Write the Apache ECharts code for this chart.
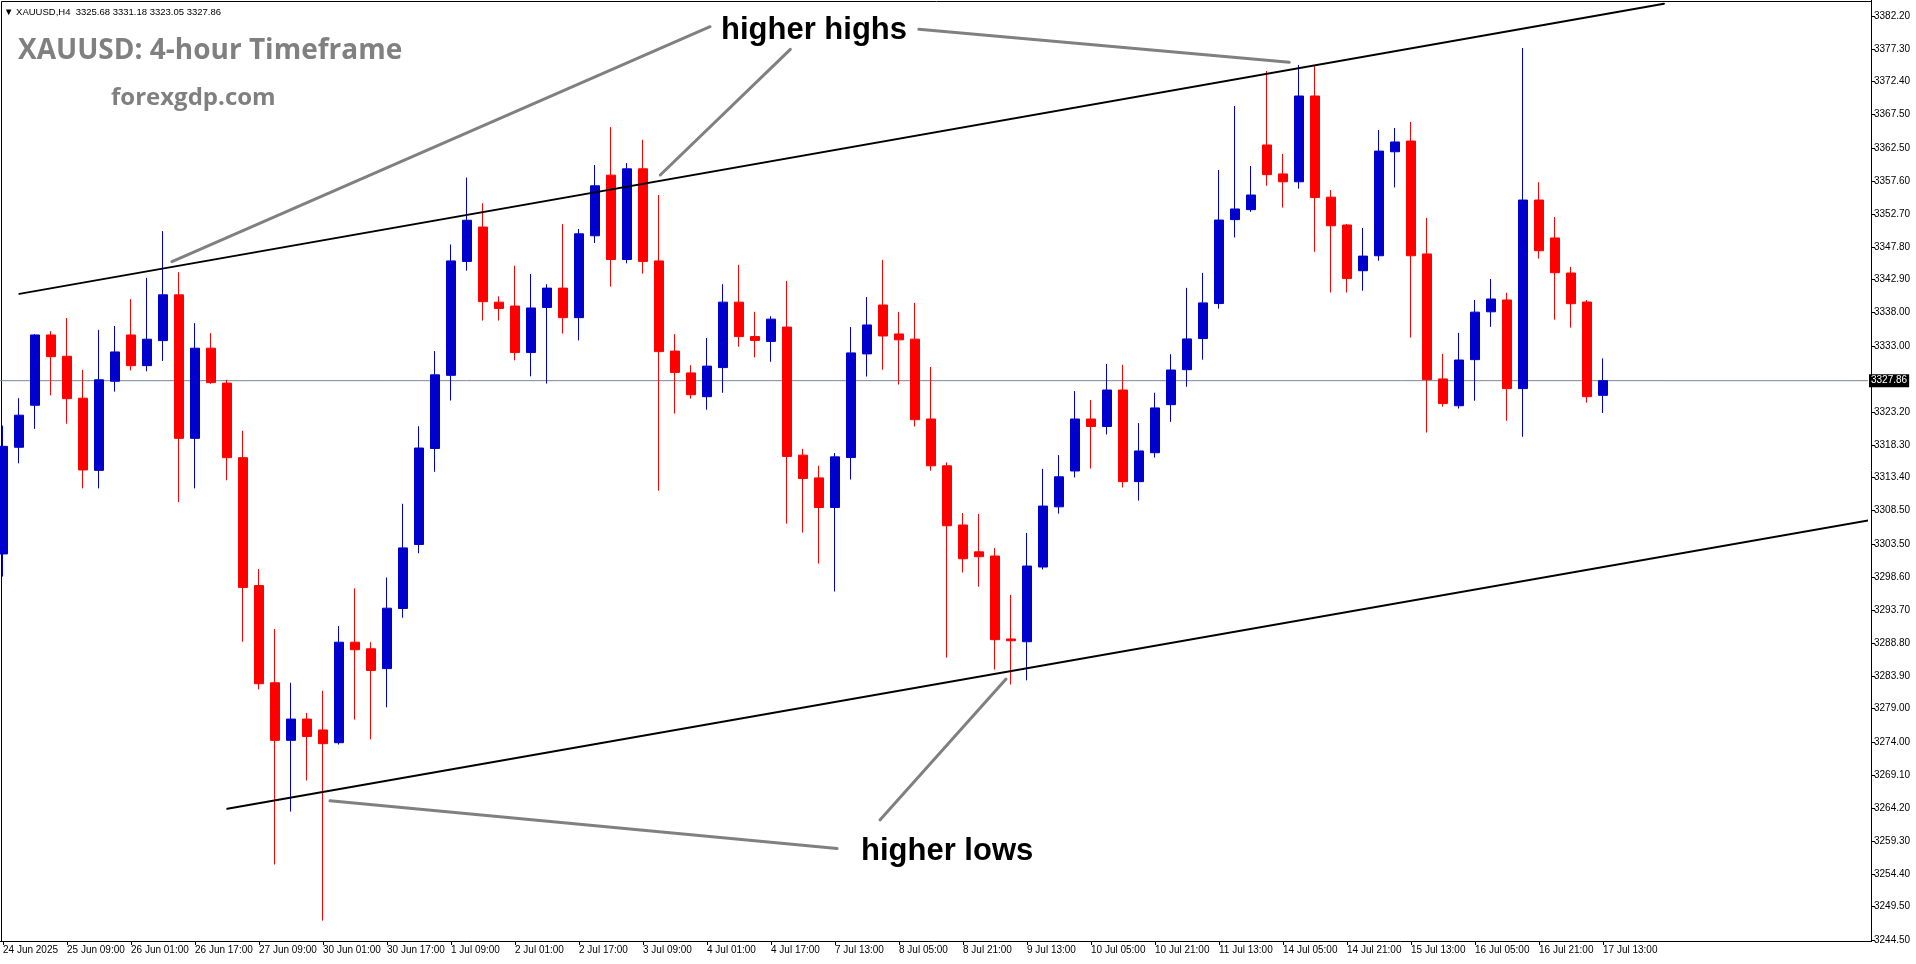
<!DOCTYPE html>
<html>
<head>
<meta charset="utf-8">
<script src="https://cdn.jsdelivr.net/npm/echarts@6/dist/echarts.min.js"></script>
<style>
html,body{margin:0;padding:0;background:#ffffff;overflow:hidden;}
#chart{width:1916px;height:964px;}
</style>
</head>
<body>
<div id="chart"></div>
<script>
// ---- tick labels (every 4th H4 bar) ----
const tickLabels = ['24 Jun 2025','25 Jun 09:00','26 Jun 01:00','26 Jun 17:00','27 Jun 09:00','30 Jun 01:00','30 Jun 17:00','1 Jul 09:00','2 Jul 01:00','2 Jul 17:00','3 Jul 09:00','4 Jul 01:00','4 Jul 17:00','7 Jul 13:00','8 Jul 05:00','8 Jul 21:00','9 Jul 13:00','10 Jul 05:00','10 Jul 21:00','11 Jul 13:00','14 Jul 05:00','14 Jul 21:00','15 Jul 13:00','16 Jul 05:00','16 Jul 21:00','17 Jul 13:00'];

// ---- OHLC values ----
const opens = [3302.05,3317.94,3324.20,3334.67,3331.50,3325.25,3314.50,3327.78,3334.67,3330.10,
3333.83,3340.65,3319.27,3332.70,3327.50,3316.39,3297.34,3282.86,3274.28,3277.45,
3275.83,3273.93,3288.90,3287.92,3284.97,3293.92,3303.46,3317.76,3328.66,3345.63,
3350.75,3339.56,3338.98,3332.05,3338.77,3341.65,3337.25,3349.45,3358.48,3345.91,
3359.42,3345.70,3332.27,3329.02,3325.48,3329.81,3339.56,3334.43,3333.71,3335.85,
3316.77,3313.38,3308.97,3316.41,3331.85,3339.13,3334.82,3334.05,3322.15,3315.18,
3306.36,3302.36,3301.74,3289.38,3288.97,3300.10,3309.07,3314.41,3322.15,3321.03,
3326.47,3312.82,3317.13,3324.29,3329.50,3334.13,3339.35,3351.85,3353.34,3362.97,
3358.66,3357.49,3370.27,3355.20,3351.05,3344.24,3346.47,3361.96,3363.56,3346.74,
3328.12,3324.13,3330.99,3338.12,3339.88,3326.68,3354.77,3349.12,3343.90,3339.58,
3325.68];
const closes = [3318.08,3322.72,3334.67,3331.44,3325.18,3314.56,3327.99,3332.14,3330.10,3334.04,
3340.65,3319.27,3332.70,3327.57,3316.39,3297.06,3282.72,3274.28,3277.45,3274.85,
3273.79,3288.90,3287.78,3284.69,3293.97,3302.95,3317.83,3328.73,3345.70,3351.76,
3339.63,3338.62,3332.05,3338.69,3341.65,3337.25,3349.74,3356.89,3345.91,3359.42,
3345.63,3332.19,3329.09,3325.77,3330.03,3339.56,3334.43,3333.86,3337.03,3316.57,
3313.28,3308.97,3316.51,3332.00,3336.16,3334.52,3333.95,3322.05,3315.18,3306.25,
3301.33,3301.64,3289.28,3289.12,3300.25,3309.18,3313.54,3322.15,3321.03,3326.47,
3312.82,3317.39,3323.80,3329.45,3334.08,3339.45,3351.79,3353.44,3355.52,3358.55,
3357.49,3370.27,3355.14,3350.94,3343.07,3346.42,3362.06,3363.42,3346.47,3328.01,
3324.45,3330.94,3338.07,3340.03,3326.68,3354.77,3347.22,3343.95,3339.33,3325.48,
3327.86];
const lows = [3298.67,3315.55,3320.68,3325.67,3321.45,3311.82,3311.82,3326.23,3329.40,3329.26,
3330.80,3309.78,3311.82,3327.40,3313.02,3288.97,3281.87,3255.79,3263.67,3268.30,
3247.43,3273.65,3277.38,3274.42,3279.20,3292.55,3302.16,3314.29,3324.90,3344.25,
3336.82,3336.82,3330.89,3328.51,3327.43,3334.87,3333.86,3348.37,3341.87,3345.34,
3343.82,3311.47,3322.95,3325.19,3323.53,3326.06,3332.92,3331.33,3330.68,3306.56,
3305.23,3300.61,3296.46,3313.13,3328.47,3329.49,3327.29,3321.03,3314.46,3286.61,
3299.28,3297.17,3284.81,3282.60,3283.22,3299.74,3308.05,3313.44,3314.77,3319.85,
3311.95,3310.00,3316.41,3321.73,3326.95,3330.99,3338.60,3349.19,3353.00,3356.90,
3353.65,3356.47,3347.06,3340.99,3340.99,3341.26,3345.73,3356.64,3334.29,3320.14,
3324.00,3323.70,3324.87,3335.88,3321.89,3319.50,3346.05,3336.95,3335.76,3324.59,
3323.05];
const highs = [3321.17,3325.25,3334.80,3335.23,3337.20,3329.47,3335.44,3336.00,3340.01,3343.18,
3350.14,3344.02,3336.43,3334.95,3328.00,3320.40,3299.80,3290.87,3282.86,3278.36,
3281.66,3291.30,3296.92,3288.90,3298.54,3309.52,3321.07,3332.27,3348.15,3358.12,
3354.29,3340.43,3344.98,3343.75,3342.23,3351.18,3350.46,3359.99,3365.63,3360.28,
3363.75,3355.52,3334.79,3330.17,3334.22,3342.23,3345.12,3338.12,3337.47,3342.73,
3317.69,3315.18,3317.08,3335.85,3340.32,3345.86,3338.11,3339.44,3329.90,3315.69,
3308.15,3308.00,3302.92,3295.94,3305.18,3314.72,3316.77,3326.31,3324.98,3330.36,
3330.21,3321.54,3326.06,3331.80,3341.69,3343.92,3359.25,3368.78,3359.84,3373.99,
3361.63,3374.89,3374.74,3356.26,3351.20,3350.62,3365.20,3365.50,3366.40,3352.11,
3331.84,3334.98,3339.87,3343.01,3340.94,3377.42,3357.43,3352.24,3344.80,3339.88,
3331.18];

// ---- price axis ticks ----
const yTicks = [3382.2,3377.3,3372.4,3367.5,3362.5,3357.6,3352.7,3347.8,3342.9,3338.0,3333.0,
3323.2,3318.3,3313.4,3308.5,3303.5,3298.6,3293.7,3288.8,3283.9,3279.0,3274.0,3269.1,3264.2,
3259.3,3254.4,3249.5,3244.5];
const lastPrice = 3327.86;
const headerText = '\u25BC XAUUSD,H4  3325.68 3331.18 3323.05 3327.86';

// ---- drawn lines, in [bar index, price] ----
const upperTrend = [[1.02, 3340.79], [103.81, 3384.02]];
const lowerTrend = [[14.02, 3264.09], [116.75, 3307.10]];
const highsPointers = [
  [[44.19, 3380.59], [10.56, 3345.58]],
  [[49.21, 3377.22], [41.08, 3358.50]],
  [[57.24, 3380.20], [80.39, 3375.29]]
];
const lowsPointers = [
  [[20.44, 3265.28], [52.13, 3258.17]],
  [[54.81, 3262.42], [62.69, 3283.42]]
];

const SLOTS = 117;
const categories = [];
for (let i = 0; i < SLOTS; i++) {
  categories.push(i % 4 === 0 && i / 4 < tickLabels.length ? tickLabels[i / 4] : '');
}
const lastBar = opens.length - 1;
const candleData = opens.map((o, i) => [o, closes[i], lows[i], highs[i]]);

const axisFont = 'Liberation Sans, Arial, sans-serif';

function lineSeries(data, color, width, z) {
  return {
    type: 'line', xAxisIndex: 1, yAxisIndex: 0, data: data,
    symbol: 'none', clip: false, silent: true, z: z,
    lineStyle: { color: color, width: width, cap: 'round' }
  };
}

const series = [
  {
    type: 'line', xAxisIndex: 1, yAxisIndex: 0,
    data: [[-0.5, lastPrice], [116.75, lastPrice]],
    symbol: 'none', clip: false, silent: true, z: 1,
    lineStyle: { color: '#778899', width: 1 },
    endLabel: {
      show: true, formatter: () => lastPrice.toFixed(2),
      backgroundColor: '#000000', color: '#ffffff',
      fontFamily: axisFont, fontSize: 10, padding: [2, 2, 1, 2], distance: 1
    }
  },
  {
    type: 'candlestick', xAxisIndex: 0, yAxisIndex: 0,
    data: candleData, barWidth: 10, silent: true, z: 2,
    itemStyle: {
      color: '#0000CC', color0: '#FF0000',
      borderColor: '#0000CC', borderColor0: '#FF0000', borderWidth: 1
    }
  },
  lineSeries(upperTrend, '#000000', 2, 3),
  lineSeries(lowerTrend, '#000000', 2, 3)
];
highsPointers.concat(lowsPointers).forEach(p => series.push(lineSeries(p, '#808080', 3, 4)));

const chart = echarts.init(document.getElementById('chart'), null, { renderer: 'canvas' });
chart.setOption({
  animation: false,
  backgroundColor: '#ffffff',
  grid: { left: -5, top: 0, width: 1872, height: 941, containLabel: false, outerBoundsMode: 'none' },
  xAxis: [
    {
      type: 'category', data: categories, boundaryGap: true,
      axisLine: { show: true, lineStyle: { color: '#000000', width: 1 } },
      axisTick: {
        show: true, alignWithLabel: true, length: 4,
        interval: (idx) => idx % 4 === 0 && idx <= lastBar,
        lineStyle: { color: '#000000', width: 1 }
      },
      axisLabel: {
        show: true, interval: (idx) => idx % 4 === 0 && idx <= lastBar,
        align: 'left', margin: 4, color: '#000000', fontSize: 10, fontFamily: axisFont
      },
      splitLine: { show: false }
    },
    {
      type: 'value', min: -0.5, max: SLOTS - 0.5, show: false
    }
  ],
  yAxis: [{
    type: 'value', position: 'right', offset: 4,
    min: 3244.39, max: 3384.57,
    axisLine: { show: true, onZero: false, lineStyle: { color: '#000000', width: 1 } },
    axisTick: { show: true, customValues: yTicks, length: 4, lineStyle: { color: '#000000' } },
    axisLabel: {
      show: true, customValues: yTicks, formatter: (v) => v.toFixed(2),
      margin: 3, color: '#000000', fontSize: 10, fontFamily: axisFont
    },
    splitLine: { show: false }
  }],
  graphic: [
    { type: 'polyline', silent: true, shape: { points: [[1.5, 941], [1.5, 1.5], [1871.5, 1.5]] },
      style: { stroke: '#000000', lineWidth: 1, fill: null } },
    { type: 'line', silent: true, shape: { x1: 1865, y1: 941.5, x2: 1872, y2: 941.5 },
      style: { stroke: '#000000', lineWidth: 1 } },
    { type: 'text', silent: true, x: 4, y: 12,
      style: { text: headerText, fill: '#000000', font: '9.5px Liberation Sans, Arial, sans-serif', verticalAlign: 'middle' } },
    { type: 'text', silent: true, x: 18, y: 51.5,
      style: { text: 'XAUUSD: 4-hour Timeframe', fill: '#808080', font: 'bold 28px "Open Sans", sans-serif', verticalAlign: 'middle' } },
    { type: 'text', silent: true, x: 111, y: 98,
      style: { text: 'forexgdp.com', fill: '#808080', font: 'bold 24px "Open Sans", sans-serif', verticalAlign: 'middle' } },
    { type: 'text', silent: true, x: 721, y: 30.6,
      style: { text: 'higher highs', fill: '#000000', font: 'bold 31px "Liberation Sans", Arial, sans-serif', verticalAlign: 'middle' } },
    { type: 'text', silent: true, x: 861, y: 851.3,
      style: { text: 'higher lows', fill: '#000000', font: 'bold 31px "Liberation Sans", Arial, sans-serif', verticalAlign: 'middle' } }
  ],
  series: series
});
</script>
</body>
</html>
